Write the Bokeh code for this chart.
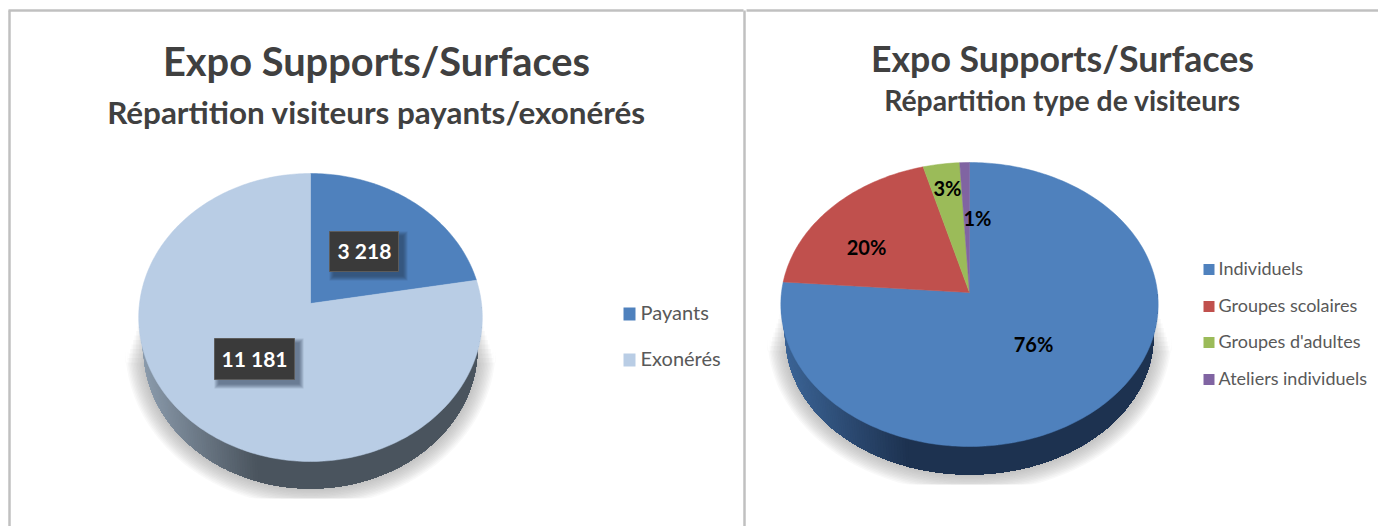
import numpy as np
from bokeh.plotting import figure
from bokeh.models import ColumnDataSource
from bokeh.core.properties import value
from bokeh.embed import file_html
from bokeh.resources import INLINE

# ---- data
title = "Expo Supports/Surfaces"
left_subtitle = "Répartition visiteurs payants/exonérés"
left_categories = ["Payants", "Exonérés"]
left_values = [3218, 11181]
left_labels = ["3 218", "11 181"]
left_colors = ["#4f81bd", "#b9cde5"]

right_subtitle = "Répartition type de visiteurs"
right_categories = ["Individuels", "Groupes scolaires", "Groupes d'adultes", "Ateliers individuels"]
right_values = [76.2, 19.5, 3.4, 0.9]
right_labels = ["76%", "20%", "3%", "1%"]
right_colors = ["#4f81bd", "#c0504d", "#9bbb59", "#8064a2"]

FONT = "Lato"
INK = "#404040"
LEG = "#595959"

p = figure(width=1378, height=526, x_range=(0, 1378), y_range=(526, 0),
           output_backend="svg", toolbar_location=None,
           min_border=0, outline_line_color=None, background_fill_color="white")
p.axis.visible = False
p.grid.visible = False


def mix(a, b, t):
    ca = [int(a[i:i + 2], 16) for i in (1, 3, 5)]
    cb = [int(b[i:i + 2], 16) for i in (1, 3, 5)]
    return "#%02x%02x%02x" % tuple(int(round(u + (v - u) * t)) for u, v in zip(ca, cb))


def draw_pie(values, colors, cx, apex_y, top_y, bot_y, k, bcy, brx, bry, clip_y, side_l, side_r, knee):
    # perspective disc: unit circle -> ellipse, with the disc centre going to the apex
    up, dn = apex_y - top_y, bot_y - apex_y
    c = (dn - up) / (dn + up)
    a = up * (1 + c)

    def rim(th):
        x, y = np.sin(th), np.cos(th)
        d = 1 + c * y
        return cx + k * x / d, apex_y - a * y / d

    # soft shadow
    steps = 12
    for i in range(steps, 0, -1):
        d = i * 1.5
        t = np.linspace(np.pi / 2, 3 * np.pi / 2, 90)
        ex = cx + (brx + d) * np.sin(t)
        ey = np.minimum(bcy + (bry + d) * (-np.cos(t)), clip_y)
        top = bcy - 40 + d * 3.0
        p.patch(np.r_[cx + brx + d, ex, cx - brx - d], np.r_[top, ey, top],
                fill_color="#808080", fill_alpha=0.05, line_color=None)

    # side wall: painted left to right, each layer covering everything to its right
    ell_top_cy = (top_y + bot_y) / 2
    ell_top_ry = (bot_y - top_y) / 2
    phi = np.linspace(np.pi * 1.53, np.pi * 0.47, 201)

    def wall(mask_phi):
        xs = np.r_[cx + k * np.sin(mask_phi), cx + brx * np.sin(mask_phi[::-1])]
        ys = np.r_[ell_top_cy - ell_top_ry * np.cos(mask_phi), bcy - bry * np.cos(mask_phi[::-1])]
        return xs, ys

    for i in range(0, 200):
        xm = cx + k * np.sin(phi[i])
        t = (xm - (cx - k)) / (knee - (cx - k))
        if t > 1:
            xs, ys = wall(phi[i:])
            p.patch(xs, ys, fill_color=side_r, line_color=None)
            break
        xs, ys = wall(phi[i:])
        p.patch(xs, ys, fill_color=mix(side_l, side_r, max(t, 0.0)), line_color=None)

    # top face
    total = sum(values)
    start = 0.0
    for v, col in zip(values, colors):
        end = start + v / total
        th = np.linspace(start, end, max(3, int((end - start) * 360))) * 2 * np.pi
        rx, ry = rim(th)
        p.patch(np.r_[cx, rx], np.r_[apex_y, ry], fill_color=col, line_color=col, line_width=0.5)
        start = end


def texts(xs, ys, labels, size, color, bold=False, align="center"):
    src = ColumnDataSource(dict(x=xs, y=ys, t=labels))
    p.text("x", "y", text="t", source=src, text_font=value(FONT), text_font_size=f"{size}px",
           text_font_style="bold" if bold else "normal", text_color=color,
           text_align=align, text_baseline="middle")


# panel borders
p.segment(x0=[8, 9, 744, 746], y0=[10, 10, 10, 10], x1=[743, 9, 744, 1378], y1=[10, 526, 526, 10],
          line_color="#c0c0c0", line_width=[2.5, 2.5, 2.5, 2.5])

draw_pie(left_values, left_colors, 310, 303, 173, 461, 171, 348, 167, 140, 498,
         "#8c9cad", "#4a545e", 255)
draw_pie(right_values, right_colors, 969, 292, 162, 446, 188, 336, 184, 138, 484,
         "#3c6597", "#1d3250", 905)

# titles
texts([376], [60], [title], 39.8, INK, True)
texts([376], [111], [left_subtitle], 31.4, INK, True)
texts([1062], [58], [title], 35.7, INK, True)
texts([1062], [99], [right_subtitle], 28.3, INK, True)

# left data labels
box_l, box_r, box_t, box_b = [329, 214], [398, 294], [231, 338], [271, 379]
for i in range(5, 0, -1):
    p.quad(left=[v + 5 - i for v in box_l], right=[v + 4 + i for v in box_r],
           top=[v + 5 - i for v in box_t], bottom=[v + 4 + i for v in box_b],
           fill_color="#1f2d45", fill_alpha=0.13, line_color=None)
p.quad(left=box_l, right=box_r, top=box_t, bottom=box_b,
       fill_color="#3a3a3a", line_color="#5c5c5c", line_width=1)
texts([364, 254], [250, 358], left_labels, 21, "#ffffff", True)

# right data labels
texts([1033, 866, 947, 977], [343, 246, 187, 217], right_labels, 20, "#000000", True)

# legends
p.rect(x=[629, 629], y=[313.5, 359.5], width=12, height=13, fill_color=left_colors, line_color=None)
texts([640, 640], [311, 357], left_categories, 20, LEG, False, "left")
leg_y = [269, 306, 342, 379]
p.rect(x=[1208.5] * 4, y=leg_y, width=11, height=11, fill_color=right_colors, line_color=None)
texts([1218] * 4, [v - 2 for v in leg_y], right_categories, 18, LEG, False, "left")

open("out.html", "w").write(file_html(p, INLINE))
